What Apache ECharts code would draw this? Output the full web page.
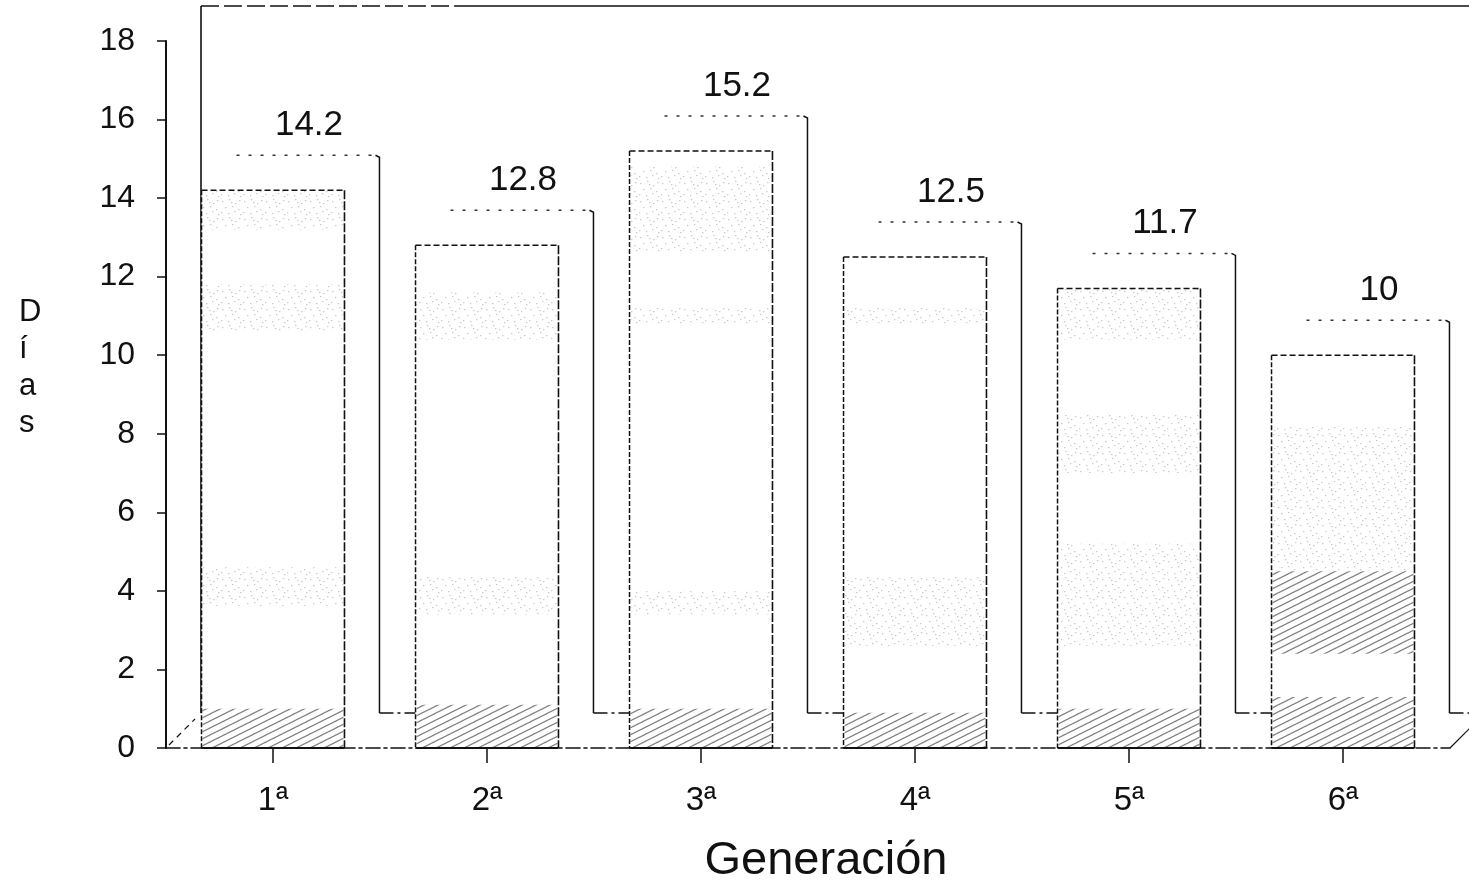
<!DOCTYPE html>
<html>
<head>
<meta charset="utf-8">
<script src="https://cdn.jsdelivr.net/npm/echarts@6/dist/echarts.min.js"></script>
<style>
  html, body { margin: 0; padding: 0; background: #ffffff; }
  #chart { width: 1469px; height: 884px; }
</style>
</head>
<body>
<div id="chart"></div>
<script>
// Duración (días) por generación
const generaciones = ['1ª', '2ª', '3ª', '4ª', '5ª', '6ª'];
const dias = [14.2, 12.8, 15.2, 12.5, 11.7, 10];
const ejeYMin = 0;
const ejeYMax = 18;
const ejeYPaso = 2;

// Textura de las caras frontales, en unidades del eje (solo decorativa)
const sombreado = [
  [[13.2, 14.2, 'dots'], [10.6, 11.8, 'dots'], [3.6, 4.6, 'dots'], [0, 1.0, 'hatch']],
  [[10.4, 11.6, 'dots'], [3.4, 4.4, 'dots'], [0, 1.1, 'hatch']],
  [[12.6, 14.8, 'dots'], [10.8, 11.2, 'dots'], [3.4, 4.0, 'dots'], [0, 1.0, 'hatch']],
  [[10.8, 11.2, 'dots'], [2.6, 4.4, 'dots'], [0, 0.9, 'hatch']],
  [[10.4, 11.7, 'dots'], [7.0, 8.5, 'dots'], [4.0, 5.2, 'dots'], [2.6, 4.0, 'dots'], [0, 1.0, 'hatch']],
  [[4.5, 8.2, 'dots'], [2.4, 4.5, 'hatch'], [0, 1.3, 'hatch']]
];

const FONT = '"Liberation Sans", Arial, Helvetica, sans-serif';
const INK = '#111111';
const DEPTH = 35;        // desplazamiento de la perspectiva (px)
const BAR_RATIO = 0.668; // ancho de barra respecto a la banda

function hatchPattern() {
  const c = document.createElement('canvas');
  c.width = 14; c.height = 7;
  const g = c.getContext('2d');
  g.strokeStyle = 'rgba(20,20,20,0.9)';
  g.lineWidth = 1.2;
  g.beginPath();
  g.moveTo(-14, 7); g.lineTo(14, -7);
  g.moveTo(0, 7); g.lineTo(14, 0);
  g.moveTo(0, 14); g.lineTo(28, 0);
  g.stroke();
  return c;
}

function dotPattern() {
  const c = document.createElement('canvas');
  c.width = 22; c.height = 18;
  const g = c.getContext('2d');
  g.fillStyle = 'rgba(60,60,60,0.55)';
  const pts = [[2,3],[9,1],[15,5],[19,2],[5,9],[12,8],[18,11],[1,14],[8,15],[14,13],[20,16],[11,4]];
  pts.forEach(p => g.fillRect(p[0], p[1], 1.4, 1.2));
  return c;
}

const HATCH = hatchPattern();
const DOTS = dotPattern();

function renderBar(params, api) {
  const i = api.value(0);
  const v = api.value(1);
  const base = api.coord([i, 0]);
  const top = api.coord([i, v]);
  const band = api.size([1, 0])[0];
  const bw = band * BAR_RATIO;
  const x0 = base[0] - bw / 2, x1 = base[0] + bw / 2;
  const y0 = base[1], yt = top[1];
  const cs = params.coordSys;
  const children = [];

  if (params.dataIndex === 0) {
    const left = cs.x, right = cs.x + cs.width;
    const bottom = cs.y + cs.height, ceil = cs.y;
    // pared del fondo
    children.push({ type: 'polyline', shape: { points: [[left + DEPTH, bottom - DEPTH], [left + DEPTH, ceil - DEPTH]] },
      style: { stroke: INK, lineWidth: 1.6, fill: null } });
    children.push({ type: 'line', shape: { x1: left + DEPTH, y1: ceil - DEPTH, x2: left + DEPTH + 260, y2: ceil - DEPTH },
      style: { stroke: INK, lineWidth: 1.6, lineDash: [18, 5] } });
    children.push({ type: 'line', shape: { x1: left + DEPTH + 260, y1: ceil - DEPTH, x2: right + DEPTH + 40, y2: ceil - DEPTH },
      style: { stroke: INK, lineWidth: 1.6 } });
    // aristas del suelo
    children.push({ type: 'line', shape: { x1: left + 3, y1: bottom - 3, x2: left + DEPTH - 6, y2: bottom - DEPTH + 6 },
      style: { stroke: INK, lineWidth: 1.2, lineDash: [6, 5] } });
    children.push({ type: 'line', shape: { x1: right, y1: bottom, x2: right + DEPTH, y2: bottom - DEPTH },
      style: { stroke: INK, lineWidth: 1.2 } });
  }

  // línea del suelo al fondo, hasta la barra siguiente
  const nextLeft = (i === dias.length - 1) ? cs.x + cs.width + DEPTH + 30 : x0 + band;
  children.push({ type: 'line', shape: { x1: x1 + DEPTH, y1: y0 - DEPTH, x2: nextLeft, y2: y0 - DEPTH },
    style: { stroke: INK, lineWidth: 1.4, lineDash: [14, 4, 3, 4] } });

  // cara posterior del prisma
  children.push({ type: 'line', shape: { x1: x0 + DEPTH, y1: yt - DEPTH, x2: x1 + DEPTH - 2, y2: yt - DEPTH },
    style: { stroke: '#333', lineWidth: 1.4, lineDash: [3, 9] } });
  children.push({ type: 'polyline', shape: { points: [[x1 + DEPTH - 4, yt - DEPTH], [x1 + DEPTH, yt - DEPTH + 2], [x1 + DEPTH, y0 - DEPTH]] },
    style: { stroke: INK, lineWidth: 1.5, fill: null } });

  // cara frontal
  children.push({ type: 'rect', shape: { x: x0, y: yt, width: bw, height: y0 - yt },
    style: { fill: '#ffffff', stroke: null } });
  (sombreado[i] || []).forEach(b => {
    const ya = api.coord([i, Math.min(b[1], v)])[1];
    const yb = api.coord([i, b[0]])[1];
    children.push({ type: 'rect', shape: { x: x0 + 1, y: ya, width: bw - 2, height: yb - ya },
      style: { fill: { image: b[2] === 'hatch' ? HATCH : DOTS, repeat: 'repeat' }, opacity: b[2] === 'hatch' ? 0.6 : 0.5 } });
  });
  children.push({ type: 'line', shape: { x1: x0, y1: yt, x2: x1, y2: yt },
    style: { stroke: INK, lineWidth: 1.6, lineDash: [6, 3] } });
  children.push({ type: 'line', shape: { x1: x0, y1: yt, x2: x0, y2: y0 },
    style: { stroke: INK, lineWidth: 1.5, lineDash: [5, 2] } });
  children.push({ type: 'line', shape: { x1: x1, y1: yt, x2: x1, y2: y0 },
    style: { stroke: INK, lineWidth: 1.6, lineDash: [9, 2] } });
  children.push({ type: 'line', shape: { x1: x0, y1: y0, x2: x1, y2: y0 },
    style: { stroke: INK, lineWidth: 2 } });

  // valor
  children.push({ type: 'text', style: {
    text: String(v), x: base[0] + DEPTH + 1, y: yt - DEPTH - 30,
    align: 'center', verticalAlign: 'middle', textAlign: 'center', textVerticalAlign: 'middle',
    fontSize: 35, fontFamily: FONT, fill: INK } });

  return { type: 'group', children: children };
}

const chart = echarts.init(document.getElementById('chart'), null, { renderer: 'canvas' });
chart.setOption({
  animation: false,
  backgroundColor: '#ffffff',
  grid: { left: 166, right: 19, top: 41, bottom: 136, containLabel: false, outerBoundsMode: 'none' },
  xAxis: {
    type: 'category',
    data: generaciones,
    boundaryGap: true,
    axisLine: { show: true, lineStyle: { color: INK, width: 1.6, type: [14, 4, 3, 4] } },
    axisTick: { show: true, alignWithLabel: true, length: 15, lineStyle: { color: INK, width: 1.5 } },
    axisLabel: { color: INK, fontSize: 33, fontFamily: FONT, margin: 36 },
    name: 'Generación',
    nameLocation: 'middle',
    nameGap: 90,
    nameTextStyle: { color: INK, fontSize: 47, fontFamily: FONT, padding: [0, 0, 0, 36] }
  },
  yAxis: {
    type: 'value',
    min: ejeYMin,
    max: ejeYMax,
    interval: ejeYPaso,
    axisLine: { show: true, lineStyle: { color: INK, width: 2 } },
    axisTick: { show: true, inside: false, length: 9, lineStyle: { color: INK, width: 1.5 } },
    axisLabel: { color: INK, fontSize: 32, fontFamily: FONT, margin: 31 },
    splitLine: { show: false }
  },
  graphic: [{
    type: 'text', left: 19, top: 294,
    style: { text: 'D\ní\na\ns', fontSize: 31, fontFamily: FONT, fill: INK, lineHeight: 37, align: 'center' }
  }],
  series: [{
    type: 'custom',
    clip: false,
    renderItem: renderBar,
    encode: { x: 0, y: 1 },
    data: dias.map((d, k) => [k, d])
  }]
});
</script>
</body>
</html>
